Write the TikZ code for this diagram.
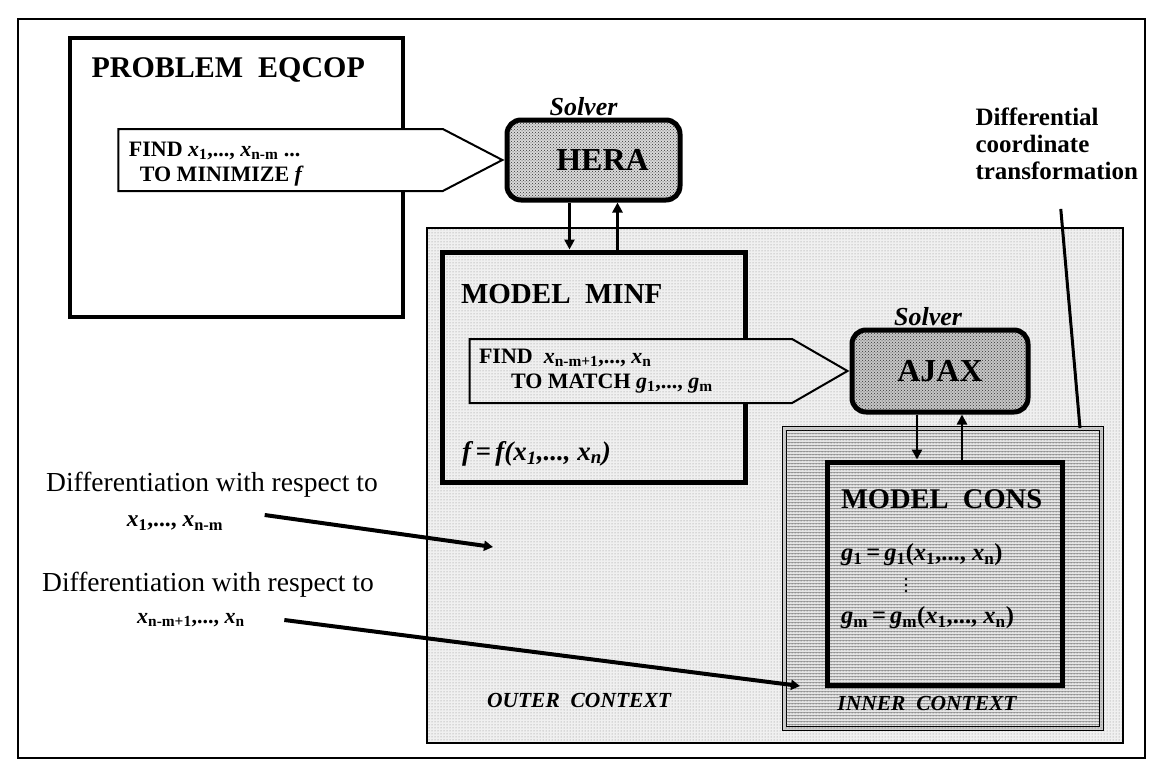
\documentclass[tikz,border=0pt]{standalone}
\usepackage{fontspec}
\setmainfont{Liberation Serif}
\usetikzlibrary{arrows.meta,positioning,calc,patterns,shapes.symbols}
\newcommand{\fsz}[2]{\fontsize{#1}{#2}\selectfont}
\newcommand{\xs}[1]{\textit{x}\textsubscript{#1}}
\newcommand{\gs}[1]{\textit{g}\textsubscript{#1}}

\begin{document}
\begin{tikzpicture}[x=1pt,y=-1pt,font=\bfseries,
    box/.style={draw,line width=4pt,inner sep=0pt},
    solver/.style={draw,line width=5pt,rounded corners=14pt,inner sep=0pt,font=\bfseries\fsz{32}{32}},
    solvername/.style={font=\bfseries\itshape\fsz{26}{26},inner sep=1pt},
    task/.style={draw,line width=2pt,shape=signal,signal to=east,inner sep=0pt},
    tasktext/.style={anchor=west,align=left,font=\bfseries\fsz{22}{25}},
    title/.style={anchor=west,font=\bfseries\fsz{#1}{#1}},
    ctx/.style={font=\bfseries\itshape\fsz{21.5}{21.5}},
    outerfill/.style={preaction={fill=gray!12},pattern=dots,pattern color=gray!95},
    innerfill/.style={preaction={fill=gray!20},pattern=horizontal lines,pattern color=gray!70,
                      postaction={pattern=dots,pattern color=black!70}},
    solverfill/.style={preaction={fill=gray!#1},pattern=crosshatch dots,pattern color=black!80},
    flow/.style={-{Triangle[length=10pt,width=10pt]},line width=2.5pt},
    pointer/.style={-{Triangle[length=9pt,width=10pt]},line width=4pt}]
\useasboundingbox (0,0) rectangle (1163,776);
\draw[line width=1.5pt] (18,19) rectangle (1145,758);

% contexts
\node[draw,line width=1.2pt,outerfill,minimum width=696pt,minimum height=515pt] (outer) at (775,485.5) {};
\node[draw,line width=1pt,double=gray!40,double distance=2.5pt,innerfill,
      minimum width=317pt,minimum height=300pt] (inner) at (943,578.5) {};

% problem and its solver
\node[box,minimum width=333pt,minimum height=279pt] (eqcop) at (236.5,177.5) {};
\node[title=30] (eqcoptitle) at ($(eqcop.north west)+(20,34)$) {PROBLEM\ \ EQCOP};
\node[solver,solverfill=30,minimum width=173pt,minimum height=80pt] (hera) at (593.5,160) {\hspace*{18pt}HERA};
\node[solvername,above=1pt of hera,xshift=-10pt] (herasolver) {Solver};
\node[task,fill=white,minimum width=384pt,minimum height=62pt,signal pointer angle=55,anchor=east] (find1) at (hera.west) {};
\node[tasktext] (find1txt) at ($(find1.west)+(8,4)$) {FIND \xs{1},..., \xs{n-m} ...\\\hspace*{11pt}TO MINIMIZE \textit{f}};

% outer model
\node[box,line width=5pt,minimum width=303pt,minimum height=230pt] (minf) at (593.5,367) {};
\node[title=29] (minftitle) at ($(minf.north west)+(18,45)$) {MODEL\ \ MINF};
\node[anchor=west,font=\bfseries\itshape\fsz{27}{27}] (fdef) at ($(minf.north west)+(19,204)$) {\textit{f}\,=\,\textit{f}(\xs{1},..., \xs{n})};
\coordinate (hdown) at ($(hera.south)+(-24,0)$);
\coordinate (hup) at ($(hera.south)+(24,0)$);
\draw[flow] (hdown) -- (hdown |- minf.north);
\draw[flow] (hup |- minf.north) -- (hup);

% inner solver
\node[solver,solverfill=45,minimum width=176pt,minimum height=82pt] (ajax) at (940,371) {AJAX};
\node[solvername,above=1pt of ajax,xshift=-12pt] (ajaxsolver) {Solver};
\node[task,outerfill,minimum width=378pt,minimum height=64pt,signal pointer angle=60,anchor=east] (find2) at (ajax.west) {};
\node[tasktext] (find2txt) at ($(find2.west)+(7,0)$) {FIND\ \ \xs{n-m+1},..., \xs{n}\\\hspace*{32pt}TO MATCH \gs{1},..., \gs{m}};

% inner model
\node[box,line width=5pt,minimum width=235pt,minimum height=223pt] (cons) at (944.5,573.5) {};
\node[title=28.5] (constitle) at ($(cons.north west)+(13,40)$) {MODEL\ \ CONS};
\node[anchor=west,font=\bfseries\fsz{24.5}{24.5}] (g1) at ($(cons.north west)+(13,95)$) {\gs{1}\,=\,\gs{1}(\xs{1},..., \xs{n})};
\foreach \k in {0,1,2}
  \fill (906,579+6*\k) circle (1.3pt);
\node[anchor=west,font=\bfseries\fsz{24.5}{24.5}] (gm) at ($(cons.north west)+(13,158)$) {\gs{m}\,=\,\gs{m}(\xs{1},..., \xs{n})};
\coordinate (adown) at ($(ajax.south)+(-23,0)$);
\coordinate (aup) at ($(ajax.south)+(22,0)$);
\draw[flow] (adown) -- (adown |- cons.north);
\draw[flow] (aup |- cons.north) -- (aup);

\node[ctx] (outerlbl) at (579,700) {OUTER\ \ CONTEXT};
\node[ctx] (innerlbl) at (927,703) {INNER\ \ CONTEXT};

% annotations
\node[anchor=north west,align=left,font=\bfseries\fsz{25}{27}] (dct) at (972,104) {Differential\\coordinate\\transformation};
\draw[line width=3pt] ($(dct.south)+(4,26)$) -- ($(inner.north)+(137,0)$);

\node[font=\mdseries\fsz{27.5}{27.5}] (diff1) at (212,485) {Differentiation with respect to};
\node[font=\bfseries\fsz{23.5}{23.5}] (vars1) at (175,523) {\xs{1},..., \xs{n-m}};
\coordinate (outerpt) at (493,547);
\draw[pointer] ($(vars1.east)+(38,-8)$) -- (outerpt);

\node[font=\mdseries\fsz{27.5}{27.5}] (diff2) at (208,585) {Differentiation with respect to};
\node[font=\bfseries\fsz{22}{22}] (vars2) at (191,620) {\xs{n-m+1},..., \xs{n}};
\coordinate (innerpt) at (800,686);
\draw[pointer] ($(vars2.east)+(36,0)$) -- (innerpt);
\end{tikzpicture}
\end{document}
